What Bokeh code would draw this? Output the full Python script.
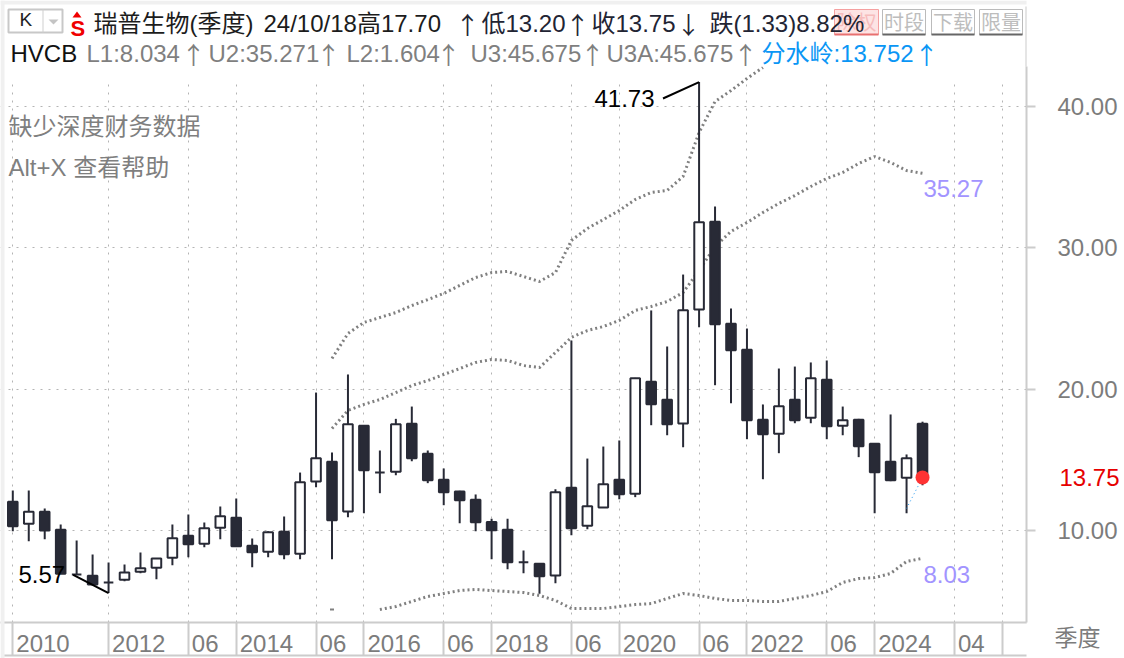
from bokeh.plotting import figure
from bokeh.layouts import column
from bokeh.models import Range1d, FixedTicker, NumeralTickFormatter, Label, PolyAnnotation, LinearAxis
from bokeh.embed import file_html
from bokeh.resources import INLINE

# ---------- data (quarterly candles) ----------
opens = [12.03,10.47,11.32,10.05,6.89,6.79,6.32,6.51,7.08,7.36,8.07,9.62,9.06,10.19,10.90,8.92,8.49,9.91,8.35,13.47,
         14.86,11.34,17.41,14.10,14.15,17.55,15.43,13.59,12.76,12.17,10.61,10.05,7.76,7.64,6.82,13.02,10.33,11.63,13.59,12.60,
         20.52,19.25,17.57,25.64,31.84,24.63,22.79,17.83,16.84,19.25,17.97,20.66,17.41,17.83,16.13,14.86,13.73,17.55]
closes = [10.30,11.32,10.00,6.94,6.89,6.18,6.32,7.03,7.33,8.02,9.46,9.03,10.16,11.01,8.89,8.46,9.88,8.32,13.42,15.12,
          10.73,17.52,14.27,14.10,17.52,15.12,13.56,12.71,12.14,10.59,10.02,7.76,7.76,6.77,12.71,10.16,11.72,13.28,12.57,20.78,
          18.94,17.52,25.59,31.81,24.60,22.76,17.80,16.81,18.80,17.80,20.78,17.38,17.80,15.96,14.13,13.56,15.12,13.75]
highs = [12.83,12.83,11.56,10.42,9.29,8.30,7.74,7.59,8.44,8.02,10.42,11.13,10.57,11.70,12.26,9.43,9.95,10.99,14.10,19.76,
         15.52,21.04,17.45,15.66,17.90,18.77,15.66,14.39,12.81,12.55,10.83,10.83,8.58,7.64,12.92,23.44,15.09,15.94,16.37,20.80,
         25.57,23.02,28.11,41.73,32.93,25.71,24.29,18.92,21.46,21.60,21.89,22.03,18.77,17.90,16.13,18.21,15.38,17.70]
lows = [9.95,9.24,9.38,6.94,6.89,6.18,5.57,6.41,6.98,6.55,7.54,8.11,8.82,9.38,8.87,7.40,8.11,7.97,7.97,13.06,
        7.97,10.94,11.22,12.64,13.91,14.90,13.35,11.79,10.52,9.95,7.97,7.26,6.98,5.52,6.27,9.67,10.09,11.63,12.21,12.36,
        17.45,16.74,15.89,24.38,20.28,19.00,16.46,13.63,15.47,17.59,17.59,16.46,16.74,15.19,11.22,13.49,11.22,13.20]
u3_start = 20
u3 = [22.17,23.94,24.72,25.07,25.42,25.92,26.34,26.77,27.34,27.90,28.25,28.33,27.97,27.62,28.25,30.52,31.37,32.00,32.64,33.42,
      33.92,34.06,35.05,38.16,40.35,41.13,41.98,42.76]
u2_start = 20
u2 = [17.22,18.49,18.92,19.27,19.76,20.26,20.61,21.04,21.46,21.89,22.10,22.03,21.67,21.53,22.59,23.66,24.15,24.43,24.86,25.57,
      25.85,26.20,26.84,28.40,30.09,31.16,31.79,32.50,33.14,33.70,34.34,34.91,35.33,35.97,36.46,36.04,35.47,35.27]
l1_start = 23
l1 = [4.41,4.62,4.98,5.33,5.54,5.75,5.83,5.75,5.68,5.61,5.40,5.05,4.48,4.48,4.48,4.62,4.76,4.83,5.19,5.54,
      5.40,5.19,5.05,5.05,4.98,4.98,5.19,5.40,5.68,6.32,6.60,6.67,6.96,7.81,8.03]
l1_stray_q = 20
l1_stray = 4.41
water_q = [56, 57]
water = [11.56, 13.75]
sep_q = [0, 6, 11, 14, 19, 22, 27, 30, 35, 38, 43, 46, 51, 54, 59, 62]
tick_labels = ["2010","2012","06","2014","06","2016","06","2018","06","2020","06","2022","06","2024","04",""]
y_ticks = [10, 20, 30, 40]

PX = 15.96
def dx(px): return (px - 12.3) / PX
def dy(py): return 10 + (530 - py) / 14.133

W, H = 1124, 658
SPLIT = 1026
FONT = "Liberation Sans, Noto Sans CJK SC"
DARK = "#282a36"
GRAY = "#7c7c7c"
EDGE = "#cccccc"

p = figure(width=W, height=H, output_backend="svg", toolbar_location=None,
           x_range=Range1d(dx(0), dx(SPLIT)), y_range=Range1d(dy(622), dy(66)),
           x_axis_location="below", y_axis_location="right",
           min_border_left=0, min_border_top=66, min_border_right=W - SPLIT, min_border_bottom=36)
p.outline_line_color = None

# transparent sheet over the page for the header text and frame pieces
SHEET_W = W + 110
sheet = figure(width=SHEET_W, height=H, output_backend="svg", toolbar_location=None,
               x_range=Range1d(0, SHEET_W), y_range=Range1d(H, 0), x_axis_type=None, y_axis_type=None,
               min_border=0, background_fill_color=None, border_fill_color=None, outline_line_color=None)
sheet.grid.visible = False
sheet.styles = {"position": "absolute", "left": "0px", "top": "0px", "z-index": "5"}

label_ticks, overrides = [], {}
for s, t in zip(sep_q, tick_labels):
    if t:
        w = len(t) * 13.35
        pos = s + (3.5 + w / 2) / PX
        label_ticks.append(pos)
        overrides[pos] = t
xa = p.xaxis[0]
xa.ticker = FixedTicker(ticks=label_ticks, minor_ticks=sep_q)
xa.major_label_overrides = overrides
xa.major_tick_out = 0; xa.major_tick_in = 0
xa.minor_tick_out = 33; xa.minor_tick_in = 0
xa.minor_tick_line_color = EDGE; xa.minor_tick_line_width = 2
xa.axis_line_color = EDGE; xa.axis_line_width = 2
xa.major_label_standoff = -21
xa.major_label_text_font = FONT; xa.major_label_text_font_size = "24px"; xa.major_label_text_color = GRAY

ya = p.yaxis[0]
ya.ticker = FixedTicker(ticks=y_ticks)
ya.formatter = NumeralTickFormatter(format="0.00")
ya.major_tick_out = 9; ya.major_tick_in = 0
ya.minor_tick_out = 0; ya.minor_tick_in = 0
ya.major_tick_line_color = EDGE; ya.major_tick_line_width = 2
ya.axis_line_color = EDGE; ya.axis_line_width = 2
ya.major_label_standoff = 22
ya.major_label_text_font = FONT; ya.major_label_text_font_size = "24px"; ya.major_label_text_color = GRAY

def side_axis(ticks, color, standoff, size, labels=None):
    a = LinearAxis(ticker=FixedTicker(ticks=ticks), major_tick_out=0, major_tick_in=0,
                   minor_tick_out=0, minor_tick_in=0, axis_line_color=None, major_tick_line_color=None,
                   major_label_standoff=standoff, major_label_text_font=FONT,
                   major_label_text_font_size=f"{size}px", major_label_text_color=color,
                   formatter=NumeralTickFormatter(format="0.00"))
    if labels:
        a.major_label_overrides = labels
    p.add_layout(a, "right")

# last close, printed beside the scale, and the period name in the scale's corner
side_axis([closes[-1]], "#e60000", -61, 24)
corner = dy(621.5)
side_axis([corner], GRAY, -68, 23, {corner: "\n季度"})

p.xgrid[0].ticker = FixedTicker(ticks=sep_q)
p.ygrid[0].ticker = FixedTicker(ticks=y_ticks)
for g in (p.xgrid[0], p.ygrid[0]):
    g.grid_line_color = "#b4b4b4"; g.grid_line_dash = "2 6"; g.grid_line_width = 1

def poly(xs, ys, fill=None, line=None, width=1, target=None, level="annotation"):
    a = PolyAnnotation(xs=list(xs), ys=list(ys), xs_units="canvas", ys_units="canvas", level=level,
                       fill_color=fill or "white", fill_alpha=1 if fill else 0,
                       line_color=line or "white", line_alpha=1 if line else 0, line_width=width)
    (target or sheet).add_layout(a)
def box(x0, y0, x1, y1, **k):
    poly([x0, x1, x1, x0], [y0, y0, y1, y1], **k)
def txt(x, y, s, color="#1c1c1c", size=24, align="left", style="normal", font=FONT):
    sheet.add_layout(Label(x=x, y=y, x_units="canvas", y_units="canvas", text=s, text_color=color, text_font=font,
                           text_font_size=f"{size}px", text_align=align, text_baseline="middle",
                           text_font_style=style))
def arrow(x, y, s, color):
    txt(x, y, s, color, 24, "center", font="Noto Sans CJK SC")

# mask the grid in the strip under the header
box(0, 66, 1025, 80, fill="white", target=p, level="underlay")

# ---------- bands ----------
BAND = dict(color="#808080", line_width=3, line_dash="2 3")
p.line([u3_start + i for i in range(len(u3))], u3, **BAND)
p.line([u2_start + i for i in range(len(u2))], u2, **BAND)
p.line([l1_start + i for i in range(len(l1))], l1, **BAND)
p.scatter([l1_stray_q], [l1_stray], marker="dash", size=4, color="#808080", line_width=2)

# ---------- candles ----------
q = list(range(len(opens)))
p.segment(q, highs, q, lows, color=DARK, line_width=2)
up = [i for i in q if closes[i] > opens[i]]
dn = [i for i in q if closes[i] <= opens[i]]
p.vbar([i for i in up], 0.6, [opens[i] for i in up], [closes[i] for i in up],
       fill_color="white", line_color=DARK, line_width=2)
p.vbar([i for i in dn], 0.6, [opens[i] for i in dn], [closes[i] for i in dn],
       fill_color=DARK, line_color=DARK, line_width=2)

p.line(water_q, water, color="#1e96f0", line_width=1, line_dash="1 3")
p.scatter([q[-1]], [closes[-1]], size=14, color="#ff3333", line_color=None)

# extreme-value callouts
hi_i = highs.index(max(highs))
p.line([dx(662.5), hi_i], [dy(98), highs[hi_i]], color="black", line_width=2)
p.line([dx(72.7), 6], [dy(574.3), 5.57], color="black", line_width=2)
txt(594, 98, f"{highs[hi_i]:.2f}", "black")
txt(18, 574, "5.57", "black")
txt(923, 188, f"{u2[-1]:.2f}", "#a294ff")
txt(923, 574, f"{l1[-1]:.2f}", "#a294ff")

# ---------- chrome ----------
box(0, 0, W, 4, fill="#f0f0f0")
box(0, 0, 4, H, fill="#f0f0f0")
box(1025, 6, 1027, 66, fill=EDGE)
box(4, 654, 1119, 656, fill=EDGE)
box(1026, 621, 1119, 623, fill=EDGE)
box(1118, 621, 1119, 656, fill=EDGE)

tag_y = 478
poly([1027, 1041, 1118, 1118, 1041], [tag_y, tag_y - 12, tag_y - 12, tag_y + 12, tag_y + 12],
     line=EDGE, width=2)

# header row 1
box(8, 9, 62, 32, line="#c8c8c8", width=2)
box(42, 9, 43, 32, fill="#d0d0d0")
poly([48, 58, 53], [19, 19, 24], fill="#c4c4c4")
txt(19, 19, "K", "#222222", 19)
txt(70, 28, "S", "#f00000", 22, style="bold")
poly([72, 81, 76.5], [17, 17, 11], fill="#f00000")
box(834, 9, 878, 34, fill="#fde4e4", line="#f5a0a0", width=1)
box(834, 33, 878, 35, fill="#e87070")
txt(856, 22, "除权", "#f6bcbc", 20, "center")
txt(93, 23, "瑞普生物(季度)")
txt(263, 23, "24/10/18高17.70")
arrow(467, 23, "↑", "#222433")
txt(481, 23, "低13.20", "#222433")
arrow(577, 23, "↑", "#222433")
txt(591, 23, "收13.75", "#222433")
arrow(688, 23, "↓", "#222433")
txt(709, 23, "跌(1.33)8.82%", "#222433")

for x0, s in ((882, "时段"), (931, "下载"), (979, "限量")):
    box(x0, 9, x0 + 43, 34, line="#bbbbbb", width=1)
    box(x0, 33, x0 + 43, 35, fill="#666666")
    txt(x0 + 21.5, 22, s, "#bdbdbd", 20, "center")

box(1098, 12, 1113, 27, line="#ee0000", width=2)
box(1093, 17, 1108, 32, line="#ee0000", width=2)

# header row 2
txt(10, 53, "HVCB", "#111111")
for x0, s, ax in ((86, "L1:8.034", 193), (208, "U2:35.271", 328), (346, "L2:1.604", 448),
                  (470, "U3:45.675", 592), (606, "U3A:45.675", 745)):
    txt(x0, 53, s, "#7f7f7f")
    arrow(ax, 53, "↑", "#7f7f7f")
txt(761, 53, "分水岭:13.752", "#0a96f5")
arrow(926, 53, "↑", "#0a96f5")

txt(8, 126, "缺少深度财务数据", "#7f7f7f")
txt(8, 167, "Alt+X 查看帮助", "#7f7f7f")

page = column(p, sheet, width=W, height=H, styles={"position": "relative", "overflow": "hidden"})
open("out.html", "w").write(file_html(page, INLINE))
